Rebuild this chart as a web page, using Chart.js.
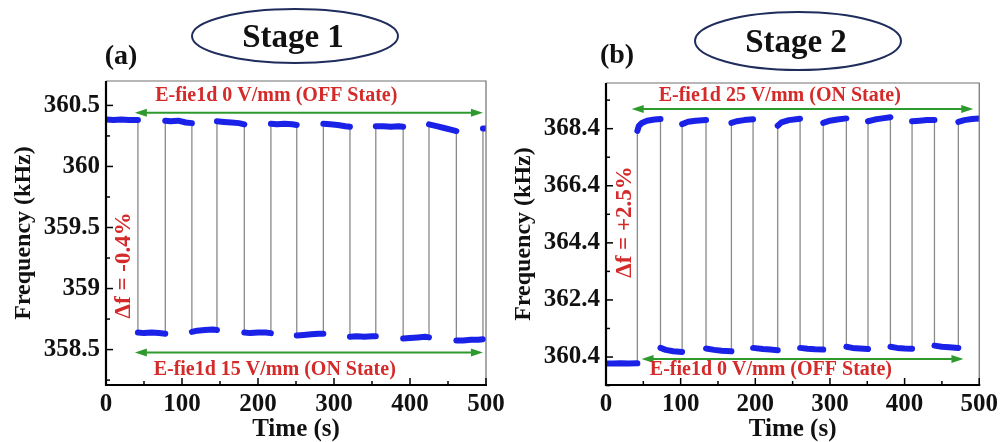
<!DOCTYPE html>
<html>
<head>
<meta charset="utf-8">
<script src="https://cdn.jsdelivr.net/npm/chart.js@4.4.1/dist/chart.umd.min.js"></script>
<style>
  html, body { margin: 0; padding: 0; background: #fff; }
  #wrap { position: relative; width: 1003px; height: 442px; overflow: hidden; }
  canvas { position: absolute; top: 0; }
  #chartA { left: 0; }
  #chartB { left: 500px; }
</style>
</head>
<body>
<div id="wrap">
  <canvas id="chartA" width="515" height="442"></canvas>
  <canvas id="chartB" width="503" height="442"></canvas>
</div>
<script>
// Panel (a): stage 1, 0 V/mm <-> 15 V/mm. null marks a switch between states.
const timeA = [
  0, 10, 20, 30, 42, 42,
  42, 50, 60, 70, 78, 78,
  78, 85, 95, 105, 113, 113,
  113, 120, 130, 140, 146, 146,
  146, 155, 165, 175, 182, 182,
  182, 190, 200, 210, 217, 217,
  217, 225, 235, 245, 251, 251,
  251, 260, 270, 280, 286, 286,
  286, 295, 305, 315, 321, 321,
  321, 330, 340, 350, 355, 355,
  355, 365, 375, 385, 391, 391,
  391, 400, 410, 420, 425, 425,
  425, 435, 445, 455, 461, 461,
  461, 470, 480, 490, 496, 496,
  496, 500
];
const freqA = [
  360.385, 360.38, 360.385, 360.38, 360.38, null,
  358.64, 358.635, 358.64, 358.635, 358.63, null,
  360.375, 360.37, 360.375, 360.36, 360.355, null,
  358.645, 358.655, 358.66, 358.665, 358.66, null,
  360.37, 360.365, 360.36, 360.355, 360.345, null,
  358.64, 358.635, 358.64, 358.64, 358.635, null,
  360.35, 360.345, 360.35, 360.345, 360.34, null,
  358.615, 358.62, 358.625, 358.63, 358.63, null,
  360.35, 360.345, 360.34, 360.33, 360.325, null,
  358.605, 358.61, 358.605, 358.61, 358.61, null,
  360.33, 360.33, 360.325, 360.33, 360.325, null,
  358.59, 358.595, 358.6, 358.605, 358.6, null,
  360.345, 360.33, 360.315, 360.3, 360.29, null,
  358.575, 358.575, 358.58, 358.58, 358.585, null,
  360.31, 360.31
];

// Panel (b): stage 2, 0 V/mm <-> 25 V/mm
const timeB = [
  0, 10, 20, 30, 42, 42,
  42, 44, 48, 55, 65, 73, 73,
  73, 80, 90, 102, 102,
  102, 110, 120, 134, 134,
  134, 145, 155, 168, 168,
  168, 175, 185, 197, 197,
  197, 210, 220, 230, 230,
  230, 235, 245, 260, 260,
  260, 270, 280, 291, 291,
  291, 300, 310, 322, 322,
  322, 330, 340, 351, 351,
  351, 360, 370, 381, 381,
  381, 390, 400, 410, 410,
  410, 420, 430, 440, 440,
  440, 450, 460, 472, 472,
  472, 480, 490, 500
];
const freqB = [
  360.17, 360.17, 360.18, 360.17, 360.18, null,
  368.32, 368.5, 368.6, 368.68, 368.72, 368.74, null,
  360.72, 360.65, 360.6, 360.58, null,
  368.56, 368.64, 368.68, 368.7, null,
  360.7, 360.65, 360.62, 360.6, null,
  368.6, 368.66, 368.7, 368.73, null,
  360.72, 360.68, 360.66, 360.64, null,
  368.5, 368.62, 368.7, 368.75, null,
  360.72, 360.69, 360.67, 360.66, null,
  368.6, 368.68, 368.72, 368.76, null,
  360.76, 360.72, 360.7, 360.68, null,
  368.66, 368.72, 368.76, 368.8, null,
  360.76, 360.72, 360.7, 360.69, null,
  368.66, 368.68, 368.7, 368.7, null,
  360.8, 360.76, 360.74, 360.72, null,
  368.64, 368.7, 368.74, 368.76
];

const xTicks = [0, 100, 200, 300, 400, 500];
const yTicksA = [358.5, 359, 359.5, 360, 360.5];
const yLabelsA = ['358.5', '359', '359.5', '360', '360.5'];
const yTicksB = [360.4, 362.4, 364.4, 366.4, 368.4];
const yLabelsB = ['360.4', '362.4', '364.4', '366.4', '368.4'];

const SERIF = "'Liberation Serif', 'Times New Roman', serif";
const RED = '#d42a2a';
const GREEN = '#2e9a2e';

function arrow(ctx, x1, x2, y) {
  ctx.save();
  ctx.strokeStyle = GREEN;
  ctx.fillStyle = GREEN;
  ctx.lineWidth = 2;
  ctx.beginPath();
  ctx.moveTo(x1 + 6, y);
  ctx.lineTo(x2 - 6, y);
  ctx.stroke();
  [[x1, 1], [x2, -1]].forEach(([x, d]) => {
    ctx.beginPath();
    ctx.moveTo(x, y);
    ctx.lineTo(x + 12 * d, y - 4);
    ctx.lineTo(x + 12 * d, y + 4);
    ctx.closePath();
    ctx.fill();
  });
  ctx.restore();
}

function label(ctx, text, x, y, font, color, rot) {
  ctx.save();
  ctx.translate(x, y);
  if (rot) ctx.rotate(rot);
  ctx.font = font;
  ctx.fillStyle = color;
  ctx.textAlign = 'center';
  ctx.textBaseline = 'middle';
  ctx.fillText(text, 0, 0);
  ctx.restore();
}

// frame, inward ticks and the figure annotations
function decoPlugin(opt) {
  return {
    id: 'deco',
    afterDatasetsDraw(chart) {
      const ctx = chart.ctx;
      const a = chart.chartArea;
      const xs = chart.scales.x, ys = chart.scales.y;
      ctx.save();
      // thin grey box on top/right
      ctx.strokeStyle = '#707070';
      ctx.lineWidth = 1.2;
      ctx.beginPath();
      ctx.moveTo(a.left, a.top);
      ctx.lineTo(a.right, a.top);
      ctx.lineTo(a.right, a.bottom);
      ctx.stroke();
      // ticks
      ctx.strokeStyle = '#000';
      ctx.lineWidth = 1.5;
      for (let v = 0; v <= 500; v += 50) {
        const px = xs.getPixelForValue(v);
        const len = v % 100 === 0 ? 7 : 4;
        ctx.beginPath();
        ctx.moveTo(px, a.bottom);
        ctx.lineTo(px, a.bottom - len);
        ctx.stroke();
      }
      for (let v = opt.minorStart; v <= ys.max; v += opt.minorStep) {
        const py = ys.getPixelForValue(v);
        if (py < a.top) continue;
        const major = opt.yTicks.some(t => Math.abs(t - v) < 1e-6);
        ctx.beginPath();
        ctx.moveTo(a.left, py);
        ctx.lineTo(a.left + (major ? 7 : 4), py);
        ctx.stroke();
      }
      // black left / bottom axes
      ctx.lineWidth = 2.2;
      ctx.beginPath();
      ctx.moveTo(a.left, a.top);
      ctx.lineTo(a.left, a.bottom);
      ctx.lineTo(a.right + 1, a.bottom);
      ctx.stroke();
      ctx.restore();

      opt.arrows.forEach(ar => {
        arrow(ctx, xs.getPixelForValue(ar.x1), xs.getPixelForValue(ar.x2), ys.getPixelForValue(ar.y));
      });
      opt.notes.forEach(n => {
        label(ctx, n.text, xs.getPixelForValue(n.x), ys.getPixelForValue(n.y),
          'bold 20px ' + SERIF, RED, 0);
      });
      label(ctx, opt.delta.text, xs.getPixelForValue(opt.delta.x), ys.getPixelForValue(opt.delta.y),
        'bold 23px ' + SERIF, RED, -Math.PI / 2);

      // stage ellipse and panel letter
      ctx.save();
      ctx.strokeStyle = '#1f2d5c';
      ctx.lineWidth = 2;
      ctx.beginPath();
      ctx.ellipse(opt.stage.cx, opt.stage.cy, opt.stage.rx, opt.stage.ry, 0, 0, Math.PI * 2);
      ctx.stroke();
      ctx.restore();
      label(ctx, opt.stage.text, opt.stage.cx - 2, opt.stage.cy + 2, 'bold 33px ' + SERIF, '#111', 0);
      label(ctx, opt.panel.text, opt.panel.x, opt.panel.y, 'bold 28px ' + SERIF, '#111', 0);
    }
  };
}

function makeChart(id, times, freqs, opt) {
  const pts = times.map((t, i) => ({ x: t, y: freqs[i] }));
  return new Chart(document.getElementById(id), {
    type: 'line',
    data: {
      datasets: [
        {
          data: pts,
          borderColor: '#1a22e8',
          borderWidth: 6,
          borderCapStyle: 'round',
          borderJoinStyle: 'round',
          pointRadius: 0,
          spanGaps: false,
          tension: 0
        },
        {
          data: pts,
          borderColor: '#8a8a8a',
          borderWidth: 1.3,
          pointRadius: 0,
          spanGaps: true,
          tension: 0
        }
      ]
    },
    options: {
      responsive: false,
      animation: false,
      events: [],
      layout: { padding: { left: 0, right: opt.padRight, top: opt.padTop, bottom: 0 } },
      plugins: { legend: { display: false }, tooltip: { enabled: false } },
      scales: {
        x: {
          type: 'linear',
          min: 0,
          max: 500,
          grid: { display: false, drawTicks: false },
          border: { display: false },
          afterBuildTicks: s => { s.ticks = xTicks.map(v => ({ value: v })); },
          afterFit: s => { s.height = 442 - opt.bottom; },
          ticks: {
            padding: 5,
            color: '#111',
            font: { family: SERIF, size: 25, weight: 'bold' },
            callback: v => String(v)
          },
          title: {
            display: true,
            text: 'Time (s)',
            color: '#111',
            padding: { top: 0, bottom: 0 },
            font: { family: SERIF, size: 25, weight: 'bold', lineHeight: 1 }
          }
        },
        y: {
          type: 'linear',
          min: opt.yMin,
          max: opt.yMax,
          grid: { display: false, drawTicks: false },
          border: { display: false },
          afterBuildTicks: s => { s.ticks = opt.yTicks.map(v => ({ value: v })); },
          afterFit: s => { s.width = 106; },
          ticks: {
            padding: 6,
            color: '#111',
            font: { family: SERIF, size: 25, weight: 'bold' },
            callback: (v, i) => opt.yLabels[i]
          },
          title: {
            display: true,
            text: 'Frequency (kHz)',
            color: '#111',
            padding: { top: 9, bottom: 0 },
            font: { family: SERIF, size: 24, weight: 'bold' }
          }
        }
      }
    },
    plugins: [decoPlugin(opt)]
  });
}

makeChart('chartA', timeA, freqA, {
  padTop: 81, padRight: 29, bottom: 385,
  yMin: 358.21, yMax: 360.7,
  yTicks: yTicksA, yLabels: yLabelsA,
  minorStart: 358.25, minorStep: 0.25,
  arrows: [{ x1: 38, x2: 496, y: 360.44 }, { x1: 38, x2: 496, y: 358.476 }],
  notes: [
    { text: 'E-fie1d 0 V/mm (OFF State)', x: 224, y: 360.577 },
    { text: 'E-fie1d 15 V/mm (ON State)', x: 222, y: 358.331 }
  ],
  delta: { text: '\u0394f = -0.4%', x: 23.7, y: 359.19 },
  stage: { text: 'Stage 1', cx: 295, cy: 36, rx: 103, ry: 27 },
  panel: { text: '(a)', x: 121, y: 57 }
});

makeChart('chartB', timeB, freqB, {
  padTop: 83, padRight: 19, bottom: 385,
  yMin: 359.42, yMax: 370.0,
  yTicks: yTicksB, yLabels: yLabelsB,
  minorStart: 359.4, minorStep: 1,
  arrows: [{ x1: 34.4, x2: 492, y: 369.09 }, { x1: 47.6, x2: 478.8, y: 360.33 }],
  notes: [
    { text: 'E-fie1d 25 V/mm (ON State)', x: 232.8, y: 369.545 },
    { text: 'E-fie1d 0 V/mm (OFF State)', x: 220.9, y: 359.95 }
  ],
  delta: { text: '\u0394f = +2.5%', x: 25.1, y: 365.13 },
  stage: { text: 'Stage 2', cx: 298, cy: 41, rx: 103, ry: 29 },
  panel: { text: '(b)', x: 117, y: 56 }
});
</script>
</body>
</html>
